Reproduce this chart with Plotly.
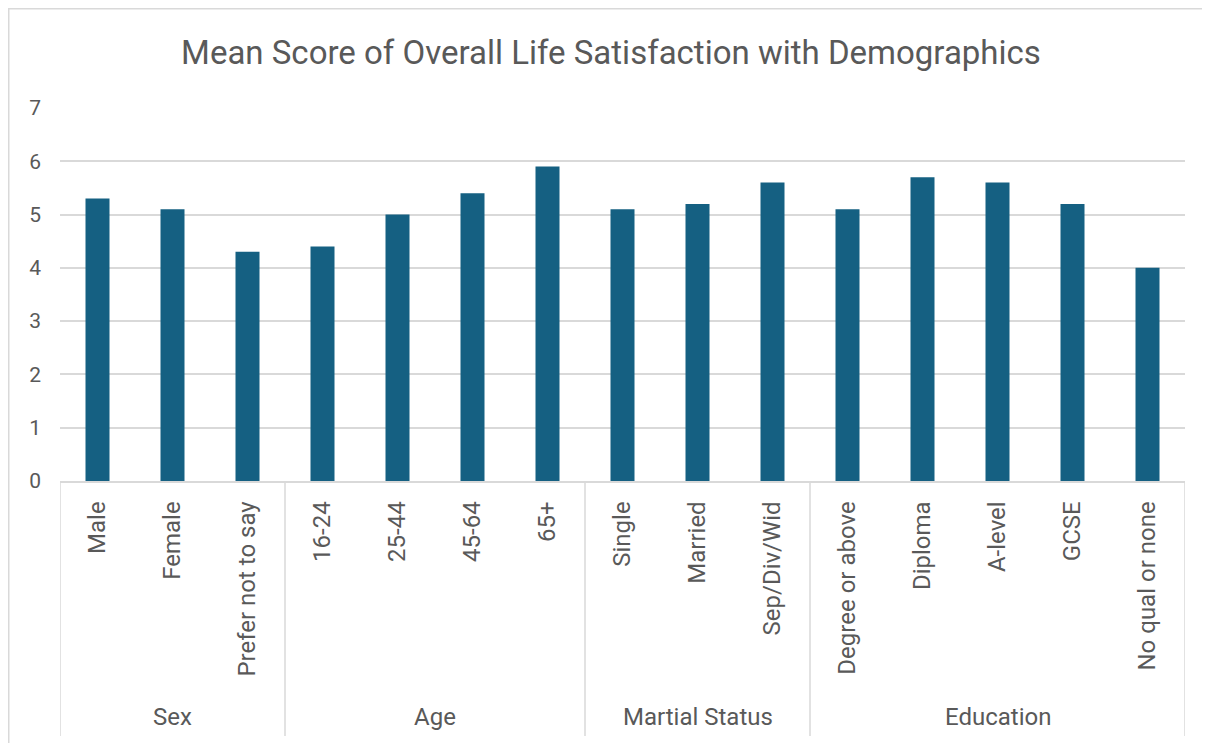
import plotly.graph_objects as go

groups = ["Sex", "Age", "Martial Status", "Education"]
group_sizes = [3, 4, 3, 5]
categories = ["Male", "Female", "Prefer not to say",
              "16-24", "25-44", "45-64", "65+",
              "Single", "Married", "Sep/Div/Wid",
              "Degree or above", "Diploma", "A-level", "GCSE", "No qual or none"]
values = [5.3, 5.1, 4.3,
          4.4, 5.0, 5.4, 5.9,
          5.1, 5.2, 5.6,
          5.1, 5.7, 5.6, 5.2, 4.0]
y_ticks = [0, 1, 2, 3, 4, 5, 6, 7]

FONT = "Roboto"
TXT = "#595959"
GRID = "#d9d9d9"

# page has an 8px body margin; figure is sized/offset to compensate
OFF = 8
W, H = 1210 - OFF, 743 - OFF
PL, PR, PT, PB = 60, 1185, 108, 481          # plot area in page pixels
L, T = PL - OFF, PT - OFF
R = W + OFF - PR
B = H + OFF - PB
plot_w = PR - PL
plot_h = PB - PT

def py(pix):
    return (PB - pix) / plot_h

def px(pix):
    return (pix - PL) / plot_w

fig = go.Figure(go.Bar(x=list(range(len(categories))), y=values,
                       marker=dict(color="#156082", line=dict(width=0)),
                       hoverinfo="x+y"))

shapes = []
bounds = [-0.5]
for s in group_sizes:
    bounds.append(bounds[-1] + s)
for b in bounds:
    shapes.append(dict(type="line", xref="x", yref="paper", x0=b, x1=b,
                       y0=0, y1=py(736), line=dict(color=GRID, width=1.5)))
annotations = []
for i, g in enumerate(groups):
    mid = (bounds[i] + bounds[i + 1]) / 2
    annotations.append(dict(text=g, xref="x", yref="paper", x=mid, y=py(717),
                            showarrow=False, font=dict(family=FONT, size=24, color=TXT),
                            xanchor="center", yanchor="middle"))
# chart-area border
shapes.append(dict(type="rect", xref="paper", yref="paper",
                   x0=px(8.5), x1=px(1230), y0=py(760), y1=py(8.5),
                   line=dict(color=GRID, width=2),
                   fillcolor="rgba(0,0,0,0)", layer="below"))

fig.update_layout(
    width=W, height=H,
    margin=dict(l=L, r=R, t=T, b=B),
    paper_bgcolor="white", plot_bgcolor="white",
    bargap=0.68,
    showlegend=False,
    title=dict(text="Mean Score of Overall Life Satisfaction with Demographics",
               x=(611 - OFF) / W, xref="container", xanchor="center",
               y=1 - (52 - OFF) / H, yref="container", yanchor="middle",
               font=dict(family=FONT, size=33, color=TXT)),
    font=dict(family=FONT, color=TXT, size=24),
    shapes=shapes,
    annotations=annotations,
    xaxis=dict(tickmode="array", tickvals=list(range(len(categories))), ticktext=categories,
               tickangle=-90, range=[-0.5, len(categories) - 0.5],
               showgrid=False, zeroline=False, showline=True, linecolor=GRID, linewidth=1.5,
               ticks="", ticklabelstandoff=9,
               tickfont=dict(family=FONT, size=24, color=TXT)),
    yaxis=dict(range=[0, 7], tickvals=y_ticks, showgrid=True, gridcolor=GRID, gridwidth=1.5,
               zeroline=False, showline=False, ticks="", ticklabelstandoff=18,
               tickfont=dict(family=FONT, size=21, color=TXT)),
)

fig.write_html("out.html")
